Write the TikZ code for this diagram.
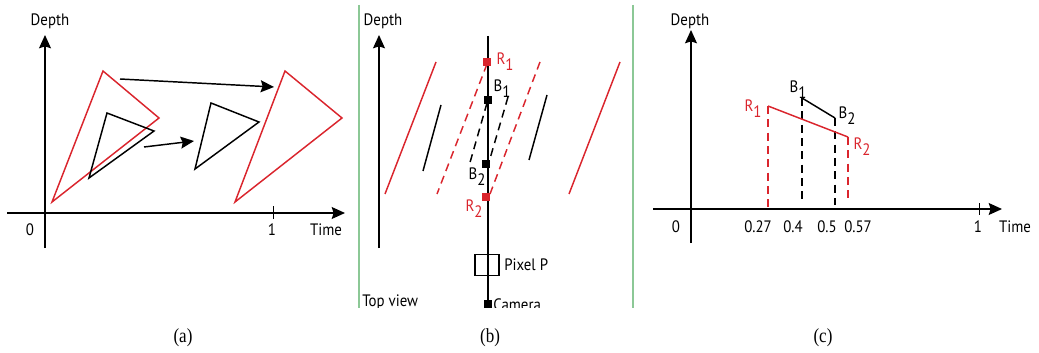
\documentclass[tikz,border=0pt]{standalone}
\usepackage{graphicx}
\usepackage{fontspec}
\setmainfont{PT Sans}
\newfontfamily\capfont{Liberation Serif}
\usetikzlibrary{arrows.meta}
\definecolor{myred}{RGB}{218,37,45}
\definecolor{mygreen}{RGB}{140,200,150}
\newcommand\sbs[1]{\raisebox{-0.38em}{#1}}
\newcommand\hs[1]{\scalebox{0.9}[1]{#1}}
\newcommand\hc[1]{\scalebox{0.85}[1]{#1}}
\begin{document}
\begin{tikzpicture}[x=0.75pt,y=-0.75pt,
 ax/.style={line width=1.1pt,-{Stealth[length=10pt,width=9pt,inset=1.5pt]}},
 tri/.style={line width=1.1pt,line join=miter},
 lbl/.style={font=\fontsize{12.4pt}{14pt}\selectfont,inner sep=0pt},
 captxt/.style={font=\capfont\fontsize{15pt}{17pt}\selectfont,inner sep=0pt},
 dsh/.style={line width=1.1pt,dash pattern=on 6pt off 4pt},
 sq/.style={fill,minimum size=6pt,inner sep=0pt},
 tickline/.style={line width=0.6pt},
 grline/.style={mygreen,line width=1pt}]
\useasboundingbox (0,0) rectangle (1039,353);
% ---------------- panel (a)
\coordinate (ay0) at (45,248); \coordinate (ay1) at (45,35);
\coordinate (ax0) at (7,213);  \coordinate (ax1) at (345,213);
\draw[ax] (ay0) -- (ay1);
\draw[ax] (ax0) -- (ax1);
\coordinate (at0) at (273,206); \coordinate (at1) at (273,219);
\draw[tickline] (at0) -- (at1);
\node[lbl] (adepth) at (50,21) {\hs{Depth}};
\node[lbl] (azero) at (30,230) {\hs{0}};
\node[lbl] (aone) at (272,230) {\hs{1}};
\node[lbl] (atime) at (326,230) {\hs{Time}};
\draw[tri,myred] (103,71) -- (159,118) -- (52,202) -- cycle;
\draw[tri] (107,113) -- (154,131) -- (89,178) -- cycle;
\draw[tri] (211,103) -- (259,122) -- (195,169) -- cycle;
\draw[tri,myred] (285,71) -- (342,118) -- (235,202) -- cycle;
\coordinate (m1s) at (120,79); \coordinate (m1e) at (274,87);
\coordinate (m2s) at (144,147); \coordinate (m2e) at (194,141);
\draw[ax] (m1s) -- (m1e);
\draw[ax] (m2s) -- (m2e);
\node[captxt] (capa) at (183,338) {\hc{(a)}};
% ---------------- panel (b)
\begin{scope}
\clip (350,0) rectangle (640,307);
\draw[grline] (359,5) -- (359,310);
\draw[grline] (633,5) -- (633,310);
\coordinate (cl0) at (488,36); \coordinate (cl1) at (488,310);
\draw[line width=1.1pt] (cl0) -- (cl1);
\node[sq] (cam) at (488,304) {};
\node[lbl,anchor=base west] (camlbl) at (493,310.5) {\hs{Camera}};
\node[lbl,anchor=base west] (topview) at (362,306.5) {\hs{Top view}};
\end{scope}
\coordinate (by0) at (379,248); \coordinate (by1) at (379,35);
\draw[ax] (by0) -- (by1);
\node[lbl] (bdepth) at (383,21) {\hs{Depth}};
% moving segments
\draw[tri,myred] (436,62) -- (385,194);
\draw[tri,myred] (620,62) -- (569,194);
\draw[tri] (441,105) -- (423,171);
\draw[tri] (547,95) -- (529,160);
\draw[dsh,myred] (487,64) -- (437,194);
\draw[dsh,myred] (540,62) -- (490,194);
\draw[dsh] (487,103) -- (469,166);
\draw[dsh] (508,97) -- (489,162);
\node[sq,myred] (br1) at (487,62) {};
\node[sq] (bb1) at (488,100) {};
\node[sq] (bb2) at (486,164) {};
\node[sq,myred] (br2) at (486,197) {};
\node[lbl,myred] (lr1) at (505,62) {\hs{R\sbs{1}}};
\node[lbl] (lb1) at (502,89) {\hs{B\sbs{1}}};
\node[lbl] (lb2) at (477,177) {\hs{B\sbs{2}}};
\node[lbl,myred] (lr2) at (474,209) {\hs{R\sbs{2}}};
\node[draw,line width=0.8pt,minimum width=18pt,minimum height=15.5pt,inner sep=0pt] (pix) at (487,265) {};
\node[lbl,anchor=west] (pixlbl) at (504,265) {\hs{Pixel P}};
\node[captxt] (capb) at (490,338) {\hc{(b)}};
% ---------------- panel (c)
\coordinate (cy0) at (691,243); \coordinate (cy1) at (691,30);
\coordinate (cx0) at (653,209); \coordinate (cx1) at (1002,209);
\draw[ax] (cy0) -- (cy1);
\draw[ax] (cx0) -- (cx1);
\coordinate (ct0) at (979,203); \coordinate (ct1) at (979,215);
\draw[tickline] (ct0) -- (ct1);
\node[lbl] (cdepth) at (690,21) {\hs{Depth}};
\node[lbl] (czero) at (676,227) {\hs{0}};
\node[lbl] (cone) at (978,227) {\hs{1}};
\node[lbl] (ctime) at (1015,227) {\hs{Time}};
\node[lbl] (c27) at (758,227) {\hs{0.27}};
\node[lbl] (c4) at (793,227) {\hs{0.4}};
\node[lbl] (c5) at (827,227) {\hs{0.5}};
\node[lbl] (c57) at (858,227) {\hs{0.57}};
\coordinate (r1) at (768,106); \coordinate (r2) at (848,137);
\coordinate (b1) at (802,98);  \coordinate (b2) at (835,118);
\draw[dsh,myred] (r1) -- (768,209);
\draw[dsh,myred] (r2) -- (848,203);
\draw[dsh] (b1) -- (802,202);
\draw[dsh] (b2) -- (835,205);
\draw[tri,myred] (r1) -- (r2);
\draw[tri] (b1) -- (b2);
\node[lbl,myred] (cr1) at (753,109) {\hs{R\sbs{1}}};
\node[lbl] (cb1) at (798,90) {\hs{B\sbs{1}}};
\node[lbl] (cb2) at (847,116) {\hs{B\sbs{2}}};
\node[lbl,myred] (cr2) at (862,147) {\hs{R\sbs{2}}};
\node[captxt] (capc) at (823,338) {\hc{(c)}};
\end{tikzpicture}
\end{document}
